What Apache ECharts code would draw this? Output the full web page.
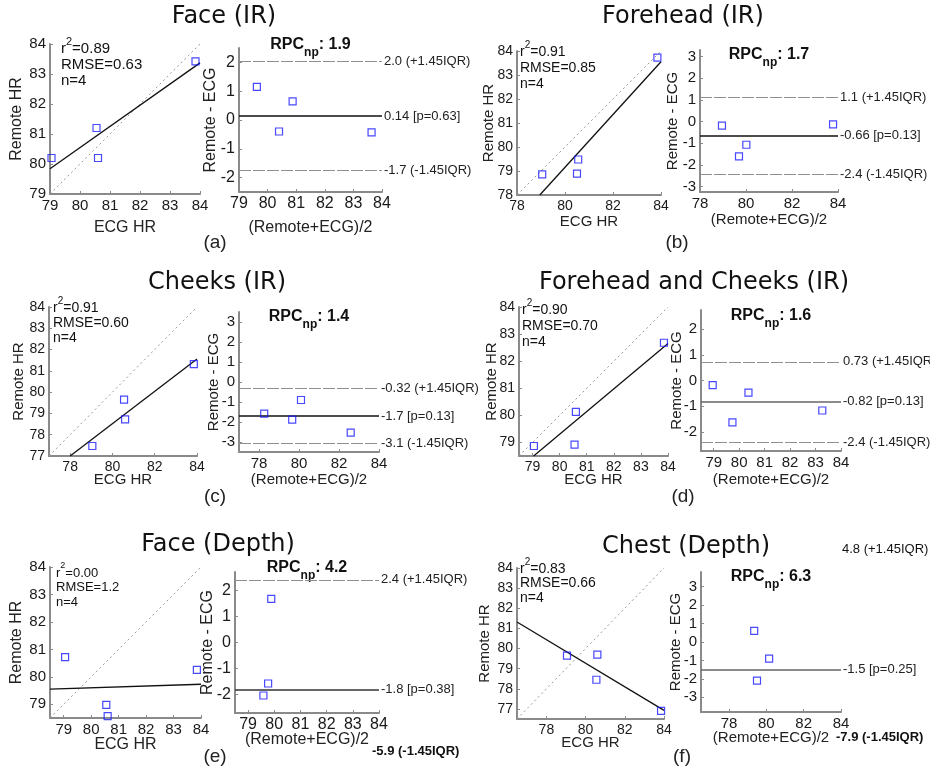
<!DOCTYPE html>
<html>
<head>
<meta charset="utf-8">
<script src="https://cdn.jsdelivr.net/npm/echarts@6/dist/echarts.min.js"></script>
<style>
  html, body { margin: 0; padding: 0; background: #fff; }
  #chart { width: 930px; height: 773px; }
</style>
</head>
<body>
<div id="chart"></div>
<script>
// ---- data, one entry per panel (a)..(f) ----
var panelTitles = ['Face (IR)', 'Forehead (IR)', 'Cheeks (IR)', 'Forehead and Cheeks (IR)', 'Face (Depth)', 'Chest (Depth)'];
var panelTags = ['(a)', '(b)', '(c)', '(d)', '(e)', '(f)'];

var ecgHR = [
  [79.05, 80.55, 80.6, 83.85],
  [79.05, 80.55, 80.5, 83.85],
  [79.05, 80.55, 80.6, 83.85],
  [79.05, 80.6, 80.55, 83.85],
  [79.05, 80.55, 80.6, 83.85],
  [79.05, 80.6, 80.55, 83.85]
];
var remoteHR = [
  [80.2, 81.2, 80.2, 83.42],
  [78.86, 79.48, 78.89, 83.72],
  [77.47, 79.65, 78.72, 81.32],
  [78.87, 80.13, 78.92, 82.68],
  [80.72, 78.98, 78.57, 80.25],
  [79.65, 79.7, 78.45, 76.9]
];
// regression line end points [ecg, remote]
var fitLines = [
  [[79, 79.84], [84, 83.37]],
  [[78.95, 78], [84, 83.55]],
  [[78, 77], [84, 81.56]],
  [[79.04, 78.5], [84, 82.65]],
  [[78.5, 79.55], [84, 79.73]],
  [[76.5, 81.32], [84, 76.93]]
];

var hrRange = [[79, 84], [78, 84], [77, 84], [78.5, 84], [78.5, 84], [76.5, 84]];
var diffRange = [[-2.5, 2.5], [-3.25, 3.3], [-3.5, 3.5], [-2.75, 2.75], [-2.7, 2.7], [-3.8, 3.8]];

var hrTicksX = [
  [79, 80, 81, 82, 83, 84], [78, 80, 82, 84], [78, 80, 82, 84],
  [79, 80, 81, 82, 83, 84], [79, 80, 81, 82, 83, 84], [78, 80, 82, 84]
];
var hrTicksY = [
  [79, 80, 81, 82, 83, 84], [78, 79, 80, 81, 82, 83, 84], [77, 78, 79, 80, 81, 82, 83, 84],
  [79, 80, 81, 82, 83, 84], [79, 80, 81, 82, 83, 84], [77, 78, 79, 80, 81, 82, 83, 84]
];
var meanTicks = hrTicksX;
var diffTicks = [
  [-2, -1, 0, 1, 2], [-3, -2, -1, 0, 1, 2, 3], [-3, -2, -1, 0, 1, 2, 3],
  [-2, -1, 0, 1, 2], [-2, -1, 0, 1, 2], [-3, -2, -1, 0, 1, 2, 3]
];

var r2Text = ['0.89', '0.91', '0.91', '0.90', '0.00', '0.83'];
var rmseText = ['0.63', '0.85', '0.60', '0.70', '1.2', '0.66'];
var nCount = [4, 4, 4, 4, 4, 4];
var rpcText = ['1.9', '1.7', '1.4', '1.6', '4.2', '6.3'];

var loaUpper = [2.03, 1.1, -0.32, 0.73, 2.4, 4.8];
var upperText = ['2.0', '1.1', '-0.32', '0.73', '2.4', '4.8'];
var loaBias = [0.14, -0.66, -1.7, -0.82, -1.8, -1.5];
var biasText = ['0.14', '-0.66', '-1.7', '-0.82', '-1.8', '-1.5'];
var pValue = ['0.63', '0.13', '0.13', '0.13', '0.38', '0.25'];
var loaLower = [-1.75, -2.45, -3.08, -2.4, -5.9, -7.9];
var lowerText = ['-1.7', '-2.4', '-3.1', '-2.4', '-5.9', '-7.9'];

// ---- layout (pixels) ----
var scatterBox = [[50, 44, 200, 194], [517, 51, 661, 195], [49, 307, 197, 456],
                  [519, 307, 668, 456], [50, 567, 201, 718], [517, 568, 664, 719]];
var baBox = [[239, 48, 382, 192], [700, 50, 838, 192], [239, 312, 379, 452],
             [701, 310, 841, 451], [235, 572, 379, 713], [701, 572, 841, 712]];
var titlePos = [[224, 17], [683, 17], [217, 283], [694, 283], [218, 545], [686, 547]];
var tagPos = [[215, 243], [677, 243], [215, 497], [683, 497], [215, 757], [682, 757]];
var rpcY = [45, 55, 317, 316, 568, 577];
var statPos = [[61, 49], [520, 52], [53, 308], [522, 310], [56, 573], [520, 569]];
var statGap = [16, 16, 15, 16, 14.5, 14.5];
var statFont = [15, 14, 14, 14, 13, 14];
var hrTickFont = [15, 14, 14, 14, 15, 14];
var diffTickFont = [16, 15, 15, 15, 16, 15];
var nameFont = [16, 15, 15, 15, 16, 15];
var gapHRy = [25, 21, 23, 20, 25, 24.5];
var gapHRx = [26, 19, 16.5, 16.5, 19, 16.5];
var gapBAy = [20, 20, 18, 17, 19, 18];
var gapBAx = [28, 20.5, 20, 21.5, 19, 18.5];
var biasColor = ['#111', '#111', '#111', '#666', '#333', '#666'];
var outsideUpperPos = [null, null, null, null, null, [842, 549]];
var outsideLowerPos = [null, null, null, null, [372, 751], [836, 737]];

var SANS = '"Liberation Sans", Arial, sans-serif';
var AXIS_GRAY = '#8a8a8a';

function gridOf(b) {
  return { left: b[0], top: b[1], width: b[2] - b[0], height: b[3] - b[1] };
}

function valueAxis(gi, range, ticks, name, gap, tickFont, nFont) {
  return {
    type: 'value', gridIndex: gi, min: range[0], max: range[1],
    name: name, nameLocation: 'middle', nameGap: gap, nameMoveOverlap: false,
    nameTextStyle: { fontFamily: SANS, fontSize: nFont, color: '#222' },
    axisLine: { show: true, onZero: false, lineStyle: { color: AXIS_GRAY, width: 2 } },
    axisTick: { show: true, inside: true, length: 3, customValues: ticks, lineStyle: { color: AXIS_GRAY } },
    axisLabel: { customValues: ticks, fontFamily: SANS, fontSize: tickFont, color: '#1a1a1a', margin: 4 },
    splitLine: { show: false }
  };
}

var grids = [], xAxes = [], yAxes = [], series = [], graphics = [];

for (var p = 0; p < 6; p++) {
  var gs = 2 * p, gb = 2 * p + 1;
  grids.push(gridOf(scatterBox[p]));
  grids.push(gridOf(baBox[p]));

  xAxes.push(valueAxis(gs, hrRange[p], hrTicksX[p], 'ECG HR', gapHRx[p], hrTickFont[p], nameFont[p]));
  yAxes.push(valueAxis(gs, hrRange[p], hrTicksY[p], 'Remote HR', gapHRy[p], hrTickFont[p], nameFont[p]));
  xAxes.push(valueAxis(gb, hrRange[p], meanTicks[p], '(Remote+ECG)/2', gapBAx[p], diffTickFont[p], nameFont[p]));
  yAxes.push(valueAxis(gb, diffRange[p], diffTicks[p], 'Remote - ECG', gapBAy[p], diffTickFont[p], nameFont[p]));

  var pts = [], ba = [];
  for (var i = 0; i < ecgHR[p].length; i++) {
    var e = ecgHR[p][i], r = remoteHR[p][i];
    pts.push([e, r]);
    ba.push([(r + e) / 2, r - e]);
  }

  var lo = hrRange[p][0], hi = hrRange[p][1];
  series.push({
    type: 'line', xAxisIndex: gs, yAxisIndex: gs, data: [[lo, lo], [hi, hi]],
    showSymbol: false, silent: true, clip: true,
    lineStyle: { color: '#999', width: 1, type: [2, 3] }
  });
  series.push({
    type: 'line', xAxisIndex: gs, yAxisIndex: gs, data: fitLines[p],
    showSymbol: false, silent: true, clip: true,
    lineStyle: { color: '#111', width: 1.3 }
  });
  var markerStyle = { color: 'rgba(255,255,255,0)', borderColor: '#1a1aff', borderWidth: 1.2 };
  series.push({
    type: 'scatter', xAxisIndex: gs, yAxisIndex: gs, data: pts,
    symbol: 'rect', symbolSize: 7, itemStyle: markerStyle, z: 5
  });

  var loaLines = [];
  var dr = diffRange[p];
  var limStyle = { color: '#8f8f8f', width: 1.2, type: [12, 2] };
  var entries = [
    [loaUpper[p], upperText[p] + ' (+1.45IQR)', limStyle, outsideUpperPos[p], false],
    [loaBias[p], biasText[p] + ' [p=' + pValue[p] + ']', { color: biasColor[p], width: 1.5, type: 'solid' }, null, false],
    [loaLower[p], lowerText[p] + ' (-1.45IQR)', limStyle, outsideLowerPos[p], true]
  ];
  entries.forEach(function (en) {
    if (en[0] >= dr[0] && en[0] <= dr[1]) {
      loaLines.push({ yAxis: en[0], lineStyle: en[2], label: { formatter: en[1] } });
    } else if (en[3]) {
      graphics.push({
        type: 'text', x: en[3][0], y: en[3][1], silent: true,
        style: { text: en[1], font: (en[4] ? 'bold ' : '') + '13px ' + SANS, fill: '#111',
                 align: 'left', verticalAlign: 'middle' }
      });
    }
  });

  series.push({
    type: 'scatter', xAxisIndex: gb, yAxisIndex: gb, data: ba,
    symbol: 'rect', symbolSize: 7, itemStyle: markerStyle, z: 5, clip: true,
    markLine: {
      silent: true, symbol: 'none', animation: false,
      label: { show: true, position: 'end', distance: 2, color: '#222', fontSize: 13,
               fontFamily: SANS, padding: [6, 0, 0, 0] },
      data: loaLines
    }
  });

  // titles and annotations
  graphics.push({
    type: 'text', x: titlePos[p][0], y: titlePos[p][1], silent: true,
    style: { text: panelTitles[p], font: '24px "DejaVu Sans", sans-serif', fill: '#111',
             align: 'center', verticalAlign: 'middle' }
  });
  graphics.push({
    type: 'text', x: tagPos[p][0], y: tagPos[p][1], silent: true,
    style: { text: panelTags[p], font: '19px ' + SANS, fill: '#222',
             align: 'center', verticalAlign: 'middle' }
  });
  var fs = statFont[p];
  graphics.push({
    type: 'text', x: statPos[p][0], y: statPos[p][1] - 2.5, silent: true,
    style: {
      text: '{a|r}{s|2}{a|=' + r2Text[p] + '}', align: 'left', verticalAlign: 'middle',
      rich: {
        a: { fontSize: fs, fontFamily: SANS, fill: '#111', padding: [5, 0, 0, 0], verticalAlign: 'bottom' },
        s: { fontSize: Math.round(fs * 0.7), fontFamily: SANS, fill: '#111', verticalAlign: 'top' }
      }
    }
  });
  graphics.push({
    type: 'text', x: statPos[p][0], y: statPos[p][1] + statGap[p], silent: true,
    style: { text: 'RMSE=' + rmseText[p], font: fs + 'px ' + SANS, fill: '#111',
             align: 'left', verticalAlign: 'middle' }
  });
  graphics.push({
    type: 'text', x: statPos[p][0], y: statPos[p][1] + 2 * statGap[p], silent: true,
    style: { text: 'n=' + nCount[p], font: fs + 'px ' + SANS, fill: '#111',
             align: 'left', verticalAlign: 'middle' }
  });
  graphics.push({
    type: 'text', x: (baBox[p][0] + baBox[p][2]) / 2, y: rpcY[p] + 3, silent: true,
    style: {
      text: '{b|RPC}{s|np}{b|: ' + rpcText[p] + '}', align: 'center', verticalAlign: 'middle',
      rich: {
        b: { fontSize: 16, fontWeight: 'bold', fontFamily: SANS, fill: '#111', padding: [0, 0, 6, 0], verticalAlign: 'top' },
        s: { fontSize: 12, fontWeight: 'bold', fontFamily: SANS, fill: '#111', verticalAlign: 'bottom' }
      }
    }
  });
}

var chart = echarts.init(document.getElementById('chart'));
chart.setOption({
  animation: false,
  backgroundColor: '#fff',
  grid: grids,
  xAxis: xAxes,
  yAxis: yAxes,
  series: series,
  graphic: { elements: graphics }
});
</script>
</body>
</html>
